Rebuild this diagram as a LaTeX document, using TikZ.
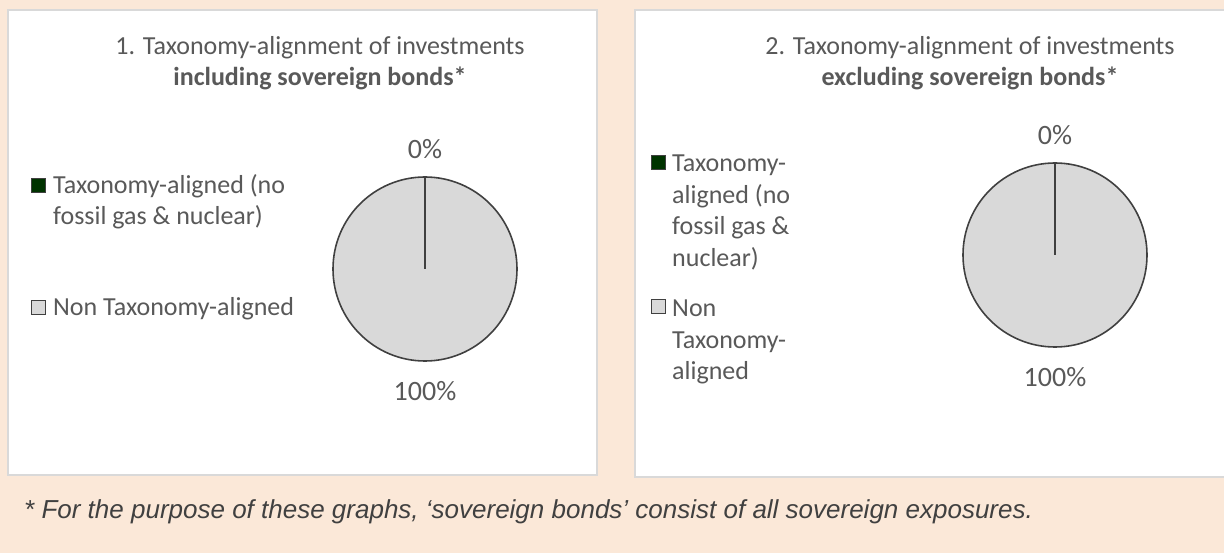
\documentclass[tikz,border=0pt]{standalone}
\usepackage{fontspec}
\setmainfont{Carlito}
\newfontfamily\notefont{Liberation Sans}
\usetikzlibrary{positioning}
\definecolor{bgpeach}{RGB}{251,232,216}
\definecolor{panelgray}{RGB}{217,217,217}
\definecolor{txtgray}{RGB}{89,89,89}
\definecolor{piefill}{RGB}{217,217,217}
\definecolor{piedark}{RGB}{64,64,64}
\definecolor{taxgreen}{RGB}{0,51,0}
\definecolor{notegray}{RGB}{64,64,64}
\begin{document}
\begin{tikzpicture}[x=1pt,y=-1pt,
    panel/.style={draw=panelgray,fill=white,line width=1.2pt},
    ttl/.style={font=\fontsize{26}{31}\selectfont,text=txtgray,align=center},
    legtxt/.style={font=\fontsize{26}{31.5}\selectfont,text=txtgray,align=left,anchor=north west,inner sep=0pt},
    legsq/.style={draw=piedark,line width=0.8pt,minimum size=14pt,inner sep=0pt},
    pie/.style={circle,draw=piedark,fill=piefill,line width=1.6pt,minimum size=184pt,inner sep=0pt},
    pct/.style={font=\fontsize{28}{32}\selectfont,text=txtgray,inner sep=0pt}]
  \fill[bgpeach] (0,0) rectangle (1224,553);
  \useasboundingbox (0,0) rectangle (1224,553);

  % left chart
  \draw[panel] (8,10) rectangle (597,475);
  \node[ttl] (titleL) at (320,63) {1. Taxonomy-alignment of investments\\{\bfseries including sovereign bonds*}};
  \node[legsq,fill=taxgreen] (sqL1) at (38,185) {};
  \node[legtxt] (legL1) at (53,174) {Taxonomy-aligned (no\\fossil gas \& nuclear)};
  \node[legsq,fill=piefill] (sqL2) at (38,307) {};
  \node[legtxt] (legL2) at (53,297) {Non Taxonomy-aligned};
  \node[pie] (pieL) at (425,269) {};
  \draw[piedark,line width=1.4pt] (pieL.center) -- (pieL.north);
  \node[pct,above=17pt of pieL] (zeroL) {0\%};
  \node[pct,below=19pt of pieL] (fullL) {100\%};

  % right chart
  \draw[panel] (635,10) rectangle (1240,477);
  \node[ttl] (titleR) at (970,63) {2. Taxonomy-alignment of investments\\{\bfseries excluding sovereign bonds*}};
  \node[legsq,fill=taxgreen] (sqR1) at (658.5,162) {};
  \node[legtxt] (legR1) at (672,155) {Taxonomy-\\aligned (no\\fossil gas \&\\nuclear)};
  \node[legsq,fill=piefill] (sqR2) at (658.5,306) {};
  \node[legtxt] (legR2) at (672,300) {Non\\Taxonomy-\\aligned};
  \node[pie] (pieR) at (1055,255) {};
  \draw[piedark,line width=1.4pt] (pieR.center) -- (pieR.north);
  \node[pct,above=17pt of pieR] (zeroR) {0\%};
  \node[pct,below=19pt of pieR] (fullR) {100\%};

  % footnote
  \node[anchor=west,inner sep=0pt,text=notegray,font=\notefont\itshape\fontsize{26}{30}\selectfont] (note) at (24,512) {* For the purpose of these graphs, ‘sovereign bonds’ consist of all sovereign exposures.};
\end{tikzpicture}
\end{document}
